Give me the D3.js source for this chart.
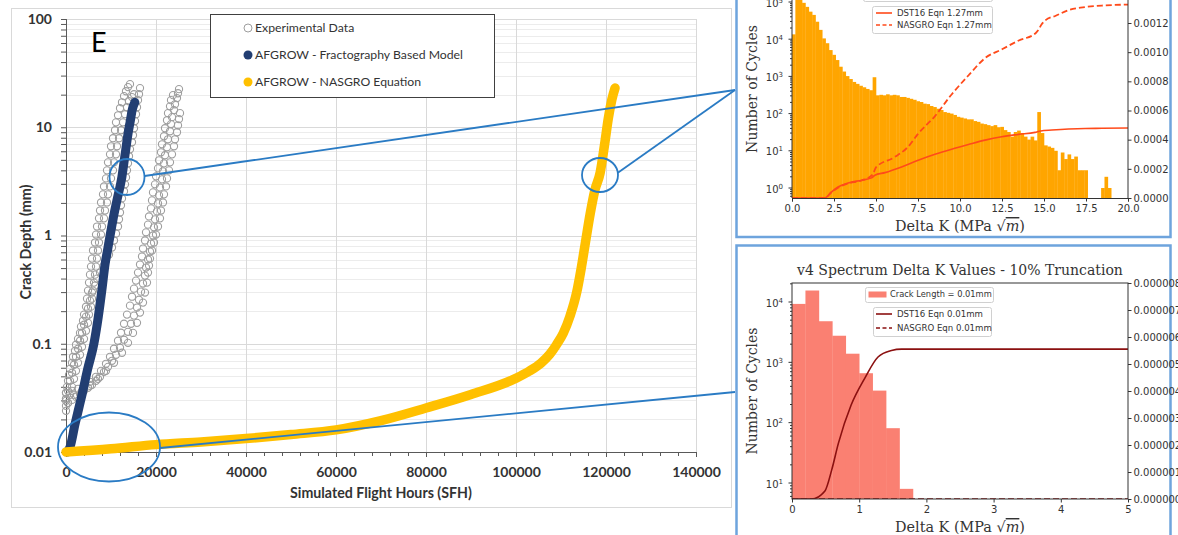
<!DOCTYPE html>
<html><head><meta charset="utf-8">
<script src="https://cdn.jsdelivr.net/npm/d3@7"></script>
<style>body{margin:0;background:#fff}svg{display:block}</style>
</head><body>
<svg id="c" width="1178" height="535"></svg>
<script>
// ---------------- DATA ----------------
// Main chart
const xTicks = [0,20000,40000,60000,80000,100000,120000,140000];
const yTicks = [0.01,0.1,1,10,100];
const yTickLabels = ["0.01","0.1","1","10","100"];
const legendLabels = ["Experimental Data","AFGROW - Fractography Based Model","AFGROW - NASGRO Equation"];
const panelLetter = "E";
const xTitle = "Simulated Flight Hours (SFH)";
const yTitle = "Crack Depth (mm)";

const expData1 = [[0,0.031],[0,0.0352],[220,0.040],[440,0.0454],[670,0.0516],[890,0.0587],[1330,0.0667],[1560,0.0758],[2000,0.0861],[2220,0.098],[2670,0.111],[3110,0.126],[3330,0.144],[3780,0.163],[4000,0.186],[4440,0.220],[4670,0.261],[4890,0.31],[5110,0.367],[5330,0.435],[5560,0.516],[5780,0.612],[6000,0.726],[6440,0.861],[6670,1.02],[6890,1.21],[7330,1.44],[7560,1.70],[7780,2.02],[8220,2.40],[8440,2.84],[8890,3.37],[9110,4.0],[9330,4.74],[9780,5.62],[10000,6.67],[10440,7.91],[10890,9.38],[11110,11.1],[11560,12.9],[12000,15.0],[12440,17.0],[12890,19.4],[13330,21.5],[13780,23.5],[14220,25.0]];
const expData2 = [[0,0.0297],[444,0.0367],[889,0.0454],[1333,0.0539],[1778,0.064],[2222,0.0758],[2667,0.0899],[3111,0.1066],[3556,0.1265],[4000,0.15],[4444,0.178],[4889,0.211],[5333,0.25],[5778,0.297],[6444,0.344],[6889,0.40],[7556,0.454],[8222,0.516],[8889,0.587],[9556,0.667],[10222,0.774],[10667,0.899],[11111,1.04],[11556,1.21],[11778,1.41],[12000,1.63],[12222,1.90],[12444,2.20],[12889,2.56],[13111,2.97],[13333,3.44],[13556,4.0],[13778,4.64],[14000,5.39],[14222,6.25],[14667,7.26],[14889,8.43],[15111,9.79],[15333,11.4],[15556,13.2],[15778,15.3],[16000,17.8],[16222,20.2],[16444,23.0]];
const expData3 = [[0,0.0267],[444,0.0284],[1333,0.0303],[2222,0.0323],[3111,0.0344],[4000,0.0367],[4889,0.0392],[5778,0.0417],[6667,0.0454],[7556,0.0495],[8444,0.055],[9333,0.0612],[10222,0.0696],[11111,0.0791],[12000,0.0918],[12889,0.109],[13778,0.129],[14444,0.153],[15111,0.182],[15778,0.216],[16222,0.255],[16667,0.303],[17111,0.36],[17556,0.426],[17778,0.506],[18222,0.6],[18667,0.711],[18889,0.843],[19333,1.0],[19556,1.19],[19778,1.41],[20222,1.67],[20444,1.98],[20667,2.35],[20889,2.78],[21333,3.30],[21556,3.92],[21778,4.64],[22000,5.51],[22444,6.53],[22667,7.74],[23111,9.18],[23333,10.7],[23556,12.4],[24000,14.4],[24222,16.3],[24667,18.6],[24889,20.6],[25111,22.5]];
const expData4 = [[0,0.031],[1778,0.0337],[3556,0.0367],[5333,0.0408],[7111,0.0474],[8889,0.0562],[10667,0.0667],[12444,0.0826],[13778,0.102],[14889,0.126],[15778,0.156],[16444,0.194],[17111,0.24],[17556,0.297],[18000,0.367],[18222,0.454],[18444,0.527],[18667,0.612],[19111,0.726],[19556,0.861],[20000,1.02],[20444,1.21],[20889,1.44],[21111,1.70],[21556,2.02],[21778,2.40],[22222,2.84],[22444,3.37],[22889,4.0],[23111,4.74],[23556,5.62],[24000,6.67],[24222,7.74],[24667,8.99],[24889,10.4],[25111,11.9],[25333,13.5]];
const expData5 = [[0,0.024],[444,0.0284],[889,0.0337],[1333,0.040],[1778,0.0474],[2222,0.0562],[2667,0.0667],[3111,0.0791],[3556,0.0938],[4000,0.111],[4444,0.132],[4889,0.156],[5111,0.186],[5556,0.220],[5778,0.261],[6000,0.31],[6222,0.367],[6444,0.435],[6667,0.516],[6889,0.612],[7111,0.726],[7333,0.861],[7778,1.02],[8000,1.21],[8444,1.44],[8667,1.70],[9111,2.02],[9333,2.40],[9778,2.84],[10000,3.37],[10444,4.0],[10667,4.74],[11111,5.62],[11333,6.67],[11778,7.91],[12222,9.38],[12667,11.1],[13111,13.2],[13556,15.3],[14000,17.4],[14667,19.0],[15111,20.2]];
const expData6 = [[0,0.0352],[1333,0.0367],[2667,0.0383],[4000,0.0408],[5333,0.0445],[6667,0.0495],[7778,0.0562],[8889,0.0653],[9778,0.0758],[10667,0.0899],[11556,0.1066],[12222,0.1265],[12889,0.153],[13556,0.186],[14222,0.225],[14667,0.272],[15111,0.323],[15556,0.383],[16000,0.454],[16444,0.539],[16889,0.639],[17111,0.758],[17556,0.899],[17778,1.07],[18222,1.26],[18444,1.50],[18889,1.78],[19111,2.11],[19333,2.50],[19778,2.97],[20000,3.52],[20444,4.17],[20667,4.95],[21111,5.87],[21333,6.96],[21778,8.26],[22000,9.79],[22444,11.6],[22667,13.5],[23111,15.6],[23333,17.8],[23778,19.8]];
const fractoModel = [[300,0.01],[900,0.0111],[2000,0.018],[3000,0.027],[3600,0.0344],[4800,0.058],[6200,0.1],[7200,0.18],[8000,0.32],[8700,0.55],[9200,0.72],[9800,1.0],[10500,1.45],[11300,2.1],[12400,3.44],[13100,5.5],[13800,8.8],[14300,11.5],[14700,14.4],[15300,17]];
const nasgroModel = [[0,0.01],[10000,0.0107],[20000,0.0117],[30000,0.0124],[40000,0.0133],[50000,0.0145],[60000,0.016],[70000,0.0195],[80000,0.0255],[90000,0.034],[100000,0.048],[103000,0.056],[105500,0.066],[107500,0.08],[109000,0.098],[110500,0.125],[112000,0.18],[113500,0.3],[114500,0.5],[115500,0.9],[116500,1.6],[117500,2.6],[118700,3.8],[119700,7],[120500,12],[121300,18],[122000,23]];

// Top inset (crack length 1.27 mm)
const topBinWidth = 0.2;
const topHistCounts = [13500,190000,150000,95000,74000,55000,45000,29500,17800,10500,7800,5100,3800,2750,1820,1350,1020,850,710,630,560,510,460,425,950,310,320,310,330,310,320,310,280,280,265,250,235,215,205,185,180,160,150,135,125,110,105,100,92,82,78,74,70,70,63,60,54,52,49,46,49,43,44,36,32,24,32,35,30,24,20,24,19,110,30,14,13,12,10,3,9,6,8,6,7,3,3,3,0,0,0,0,1,2,1,0,0,0,0,0];
const topDst16 = [[0,0],[1.95,0],[2.35,0.0000413],[2.74,0.0000757],[3.34,0.000103],[4.14,0.000122],[4.73,0.000138],[4.93,0.000156],[5.53,0.000174],[6.52,0.000213],[7.51,0.000259],[8.51,0.0003],[9.5,0.000335],[10.5,0.000367],[11.49,0.000397],[12.48,0.00042],[13.48,0.000436],[14.47,0.00045],[14.8,0.00046],[15.47,0.000466],[16.46,0.000473],[17.45,0.000477],[18.45,0.000478],[20,0.00048]];
const topNasgro = [[0,0],[1.95,0],[2.35,0.00004],[2.74,0.00007],[3.34,0.0001],[4.14,0.00012],[4.8,0.00016],[5.0,0.00021],[6.1,0.00028],[6.9,0.00035],[7.5,0.00044],[8.5,0.00056],[9.5,0.00071],[10.5,0.00084],[11.5,0.00096],[12.5,0.00102],[13.5,0.00108],[14.5,0.00113],[14.65,0.00115],[14.85,0.00119],[15.1,0.00122],[15.7,0.00125],[16.5,0.00129],[17.5,0.00131],[18.5,0.00132],[20,0.001326]];
const topXTicks = [0,2.5,5,7.5,10,12.5,15,17.5,20];
const topYExps = [0,1,2,3,4,5];
const topRightTicks = [0,0.0002,0.0004,0.0006,0.0008,0.0010,0.0012];
const topLegend = ["DST16 Eqn 1.27mm","NASGRO Eqn 1.27mm"];

// Bottom inset (crack length 0.01 mm)
const botTitle = "v4 Spectrum Delta K Values - 10% Truncation";
const botBinWidth = 0.2;
const botHistCounts = [9300,15500,4800,2760,1390,660,340,81,8];
const botDst16 = [[0,0],[0.29,0],[0.49,0.3e-6],[0.59,1.07e-6],[0.69,2.06e-6],[0.88,3.48e-6],[1.08,4.46e-6],[1.28,5.26e-6],[1.48,5.5e-6],[1.63,5.55e-6],[5,5.55e-6]];
const botNasgro = [[0,0],[5,0]];
const botXTicks = [0,1,2,3,4,5];
const botYExps = [1,2,3,4];
const botRightTicks = [0,1e-6,2e-6,3e-6,4e-6,5e-6,6e-6,7e-6,8e-6];
const botLegendHist = "Crack Length = 0.01mm";
const botLegend = ["DST16 Eqn 0.01mm","NASGRO Eqn 0.01mm"];
const yLabelInset = "Number of Cycles";

// ---------------- DRAWING ----------------
const svg = d3.select('#c');
const F = "Lato, 'Open Sans', sans-serif";
const SERIF = "'DejaVu Serif', serif";
const SANS = "'DejaVu Sans', sans-serif";

function fit(sel, w){
  const n = sel.node(); const cur = n.getComputedTextLength();
  const fs = parseFloat(sel.attr('font-size'));
  if (cur > 0) sel.attr('font-size', (fs*w/cur).toFixed(2));
  return sel;
}

svg.append('rect').attr('x',11.5).attr('y',8.5).attr('width',720).attr('height',499)
  .attr('fill','#fff').attr('stroke','#d9d9d9');

const x = d3.scaleLinear().domain([0,140000]).range([66,696]);
const y = d3.scaleLog().domain([0.01,100]).range([452,19]);

const minorY = [];
[0.01,0.1,1,10].forEach(d=>{ for(let k=2;k<=9;k++) minorY.push(d*k); });

const grid = svg.append('g');
grid.selectAll('.mg').data(minorY).join('line')
  .attr('x1',x(0)).attr('x2',x(140000)).attr('y1',d=>Math.round(y(d))+0.5).attr('y2',d=>Math.round(y(d))+0.5)
  .attr('stroke','#ececec').attr('stroke-width',1);
grid.selectAll('.Mg').data(yTicks.slice(1)).join('line')
  .attr('x1',x(0)).attr('x2',x(140000)).attr('y1',d=>Math.round(y(d))+0.5).attr('y2',d=>Math.round(y(d))+0.5)
  .attr('stroke','#d9d9d9').attr('stroke-width',1);
grid.selectAll('.vg').data(xTicks.slice(1)).join('line')
  .attr('x1',d=>Math.round(x(d))+0.5).attr('x2',d=>Math.round(x(d))+0.5).attr('y1',y(0.01)).attr('y2',y(100))
  .attr('stroke','#d9d9d9').attr('stroke-width',1);

function styleAxis(g){
  g.selectAll('path.domain').attr('stroke','#595959');
  g.selectAll('.tick line').attr('stroke','#595959');
  g.selectAll('.tick text').attr('font-family',F).attr('font-weight','bold').attr('font-size',14).attr('fill','#333');
}
const gxMinor = svg.append('g').attr('transform','translate(0,452)')
  .call(d3.axisBottom(x).tickValues(d3.range(0,140001,4000)).tickSize(4).tickFormat(''));
styleAxis(gxMinor);
const gx = svg.append('g').attr('transform','translate(0,452)')
  .call(d3.axisBottom(x).tickValues(xTicks).tickSize(5).tickPadding(10).tickFormat(d3.format('d')));
styleAxis(gx);
const gyMinor = svg.append('g').attr('transform','translate(66,0)')
  .call(d3.axisLeft(y).tickValues(minorY).tickSize(5).tickFormat(''));
styleAxis(gyMinor);
const gy = svg.append('g').attr('transform','translate(66,0)')
  .call(d3.axisLeft(y).tickValues(yTicks).tickSize(5).tickPadding(9).tickFormat((d,i)=>yTickLabels[i]));
styleAxis(gy);

fit(svg.append('text').attr('x',381).attr('y',498).attr('text-anchor','middle')
  .attr('font-family',F).attr('font-weight','bold').attr('font-size',14).attr('fill','#333').text(xTitle),182);
fit(svg.append('text').attr('transform','translate(31,242) rotate(-90)').attr('text-anchor','middle')
  .attr('font-family',F).attr('font-weight','bold').attr('font-size',14).attr('fill','#333').text(yTitle),115);

const expAll = [expData1,expData5,expData2,expData3,expData6,expData4];
const ge = svg.append('g');
expAll.forEach(ds=>{
  ge.selectAll(null).data(ds).join('circle')
    .attr('cx',d=>x(d[0])).attr('cy',d=>y(d[1])).attr('r',3.6)
    .attr('fill','none').attr('stroke','#9e9e9e').attr('stroke-width',1.1);
});

const line = d3.line().x(d=>x(d[0])).y(d=>y(d[1])).curve(d3.curveMonotoneX);
svg.append('path').datum(fractoModel).attr('d',line).attr('fill','none')
  .attr('stroke','#223e72').attr('stroke-width',9).attr('stroke-linecap','round').attr('stroke-linejoin','round');
svg.append('path').datum(nasgroModel).attr('d',line).attr('fill','none')
  .attr('stroke','#ffc000').attr('stroke-width',9.5).attr('stroke-linecap','round').attr('stroke-linejoin','round');

svg.append('text').attr('x',91).attr('y',52).attr('font-family',F).attr('font-size',27).attr('fill','#000').text(panelLetter);

svg.append('rect').attr('x',210.5).attr('y',14.5).attr('width',284).attr('height',83)
  .attr('fill','#fff').attr('stroke','#404040').attr('stroke-width',1);
const legY = [28,55,82];
svg.append('circle').attr('cx',248).attr('cy',legY[0]).attr('r',4).attr('fill','#fff').attr('stroke','#9e9e9e');
svg.append('circle').attr('cx',248).attr('cy',legY[1]).attr('r',4.5).attr('fill','#223e72');
svg.append('circle').attr('cx',248).attr('cy',legY[2]).attr('r',4.5).attr('fill','#ffc000');
const lt = legendLabels.map((t,i)=> svg.append('text').attr('x',255).attr('y',legY[i]).attr('dy','0.35em')
  .attr('font-family',F).attr('font-size',13).attr('fill','#333').text(t));
fit(lt[1],208);
lt[0].attr('font-size',lt[1].attr('font-size')); lt[2].attr('font-size',lt[1].attr('font-size'));

// ---------------- TOP INSET ----------------
const PANEL_BLUE = '#6ea4dd';
svg.append('rect').attr('x',736.5).attr('y',-10).attr('width',434).attr('height',247)
  .attr('fill','#fff').attr('stroke',PANEL_BLUE).attr('stroke-width',2.5);

const xT = d3.scaleLinear().domain([0,20]).range([792,1128]);
const yT = d3.scaleLog().domain([1,1e5]).range([188,2]);
const yTR = d3.scaleLinear().domain([0,0.0012]).range([198,23]);
const TB = 198;

const defs = svg.append('defs');
defs.append('clipPath').attr('id','clipTop').append('rect').attr('x',792).attr('y',-20).attr('width',336).attr('height',218);
defs.append('clipPath').attr('id','clipBot').append('rect').attr('x',792).attr('y',283).attr('width',336).attr('height',216);
defs.append('clipPath').attr('id','clipPanel').append('rect').attr('x',0).attr('y',0).attr('width',1170).attr('height',535);

const gTop = svg.append('g').attr('clip-path','url(#clipTop)');
gTop.selectAll('rect').data(topHistCounts.map((c,i)=>({c,i})).filter(d=>d.c>0)).join('rect')
  .attr('x',d=>xT(d.i*topBinWidth)).attr('width',xT(topBinWidth)-xT(0)+0.3)
  .attr('y',d=>yT(d.c)).attr('height',d=>TB-yT(d.c)).attr('fill','#ffa500');
const lineT = d3.line().x(d=>xT(d[0])).y(d=>yTR(d[1])).curve(d3.curveMonotoneX);
gTop.append('path').datum(topDst16).attr('d',lineT).attr('fill','none').attr('stroke','#ff4a1a').attr('stroke-width',1.6);
gTop.append('path').datum(topNasgro).attr('d',lineT).attr('fill','none').attr('stroke','#ff4a1a').attr('stroke-width',1.8).attr('stroke-dasharray','6,3');

function styleInsetAxis(g){
  g.selectAll('path.domain').attr('stroke','#333').attr('stroke-width',1);
  g.selectAll('.tick line').attr('stroke','#333');
  g.selectAll('.tick text').attr('font-family',SANS).attr('font-size',10).attr('fill','#333');
}
svg.append('line').attr('x1',792).attr('x2',792).attr('y1',-5).attr('y2',TB).attr('stroke','#333');
svg.append('line').attr('x1',1128).attr('x2',1128).attr('y1',-5).attr('y2',TB).attr('stroke','#333');
const gxT = svg.append('g').attr('transform',`translate(0,${TB})`)
  .call(d3.axisBottom(xT).tickValues(topXTicks).tickSize(3.5).tickPadding(3).tickFormat(d3.format('.1f')));
styleInsetAxis(gxT);
const topMinor=[]; [1,10,100,1000,10000].forEach(d=>{for(let k=2;k<=9;k++) topMinor.push(d*k);});
topMinor.unshift(0.6,0.7,0.8,0.9);
svg.append('g').selectAll('line').data(topMinor).join('line')
  .attr('x1',790).attr('x2',792).attr('y1',d=>yT(d)).attr('y2',d=>yT(d)).attr('stroke','#333');
svg.append('g').selectAll('line').data(topYExps).join('line')
  .attr('x1',788.5).attr('x2',792).attr('y1',d=>yT(Math.pow(10,d))).attr('y2',d=>yT(Math.pow(10,d))).attr('stroke','#333');
function powLabel(g, xr, yy, e){
  const t = g.append('text').attr('x',xr).attr('y',yy).attr('dy','0.35em').attr('text-anchor','end')
    .attr('font-family',SANS).attr('font-size',10).attr('fill','#333');
  t.append('tspan').text('10');
  t.append('tspan').attr('dy',-4).attr('font-size',7).text(String(e));
}
const gTL = svg.append('g');
topYExps.forEach(e=>powLabel(gTL,783,yT(Math.pow(10,e))+1,e));
const gyTR = svg.append('g').attr('transform','translate(1128,0)')
  .call(d3.axisRight(yTR).tickValues(topRightTicks).tickSize(3.5).tickPadding(2).tickFormat(d3.format('.4f')));
styleInsetAxis(gyTR);
gyTR.select('path.domain').remove();

function deltaK(g, cx, yy, w){
  const t = g.append('text').attr('x',cx).attr('y',yy).attr('text-anchor','middle')
    .attr('font-family',SERIF).attr('font-size',15).attr('fill','#333');
  t.append('tspan').text('Delta K (MPa ');
  t.append('tspan').text('\u221A');
  t.append('tspan').attr('font-style','italic').attr('style','text-decoration:overline').text('m');
  t.append('tspan').text(')');
  fit(t,w);
}
deltaK(svg,960,231,130);
fit(svg.append('text').attr('transform','translate(757,89) rotate(-90)').attr('text-anchor','middle')
  .attr('font-family',SERIF).attr('font-size',15).attr('fill','#333').text(yLabelInset),128);

svg.append('rect').attr('x',863.5).attr('y',-20).attr('width',129).attr('height',21.5).attr('rx',2)
  .attr('fill','#fff').attr('stroke','#d0d0d0');
svg.append('rect').attr('x',872.5).attr('y',6.5).attr('width',120).attr('height',27).attr('rx',2)
  .attr('fill','#fff').attr('fill-opacity',0.85).attr('stroke','#d0d0d0');
[13,25].forEach((yy,i)=>{
  svg.append('line').attr('x1',876).attr('x2',892).attr('y1',yy).attr('y2',yy).attr('stroke','#ff4a1a')
    .attr('stroke-width',1.6).attr('stroke-dasharray',i?'4,2.5':null);
  svg.append('text').attr('x',897).attr('y',yy).attr('dy','0.35em').attr('font-family',SANS).attr('font-size',8.6)
    .attr('fill','#333').text(topLegend[i]);
});

// ---------------- BOTTOM INSET ----------------
svg.append('rect').attr('x',736.5).attr('y',245.5).attr('width',434).attr('height',300)
  .attr('fill','#fff').attr('stroke',PANEL_BLUE).attr('stroke-width',2.5);
const xB = d3.scaleLinear().domain([0,5]).range([792,1128]);
const yB = d3.scaleLog().domain([10,1e4]).range([483,302]);
const yBR = d3.scaleLinear().domain([0,8e-6]).range([499,283]);
const BB = 499;

const gBot = svg.append('g').attr('clip-path','url(#clipBot)');
gBot.selectAll('rect').data(botHistCounts.map((c,i)=>({c,i})).filter(d=>d.c>0)).join('rect')
  .attr('x',d=>xB(d.i*botBinWidth)).attr('width',xB(botBinWidth)-xB(0)+0.3)
  .attr('y',d=>yB(d.c)).attr('height',d=>BB-yB(d.c)).attr('fill','#fa8072');
const lineB = d3.line().x(d=>xB(d[0])).y(d=>yBR(d[1])).curve(d3.curveMonotoneX);
gBot.append('path').datum(botDst16).attr('d',lineB).attr('fill','none').attr('stroke','#8b1010').attr('stroke-width',1.6);
gBot.append('path').datum(botNasgro).attr('d',lineB).attr('fill','none').attr('stroke','#8b1010').attr('stroke-width',1.6).attr('stroke-dasharray','6,3');

svg.append('rect').attr('x',792).attr('y',283).attr('width',336).attr('height',216).attr('fill','none').attr('stroke','#333');
const gxB = svg.append('g').attr('transform',`translate(0,${BB})`)
  .call(d3.axisBottom(xB).tickValues(botXTicks).tickSize(3.5).tickPadding(3).tickFormat(d3.format('d')));
styleInsetAxis(gxB); gxB.select('path.domain').remove();
const botMinor=[]; [10,100,1000,10000].forEach(d=>{for(let k=2;k<=9;k++) botMinor.push(d*k);}); botMinor.unshift(6,7,8,9);
svg.append('g').selectAll('line').data(botMinor.filter(d=>yB(d)>=283)).join('line')
  .attr('x1',790).attr('x2',792).attr('y1',d=>yB(d)).attr('y2',d=>yB(d)).attr('stroke','#333');
svg.append('g').selectAll('line').data(botYExps).join('line')
  .attr('x1',788.5).attr('x2',792).attr('y1',d=>yB(Math.pow(10,d))).attr('y2',d=>yB(Math.pow(10,d))).attr('stroke','#333');
const gBL = svg.append('g');
botYExps.forEach(e=>powLabel(gBL,783,yB(Math.pow(10,e))+1,e));
const gyBR = svg.append('g').attr('transform','translate(1128,0)').attr('clip-path','url(#clipPanel)')
  .call(d3.axisRight(yBR).tickValues(botRightTicks).tickSize(3.5).tickPadding(2).tickFormat(d3.format('.6f')));
styleInsetAxis(gyBR); gyBR.select('path.domain').remove();

fit(svg.append('text').attr('x',960).attr('y',275).attr('text-anchor','middle')
  .attr('font-family',SERIF).attr('font-size',15).attr('fill','#333').text(botTitle),326);
deltaK(svg,960,532,130);
fit(svg.append('text').attr('transform','translate(757,391) rotate(-90)').attr('text-anchor','middle')
  .attr('font-family',SERIF).attr('font-size',15).attr('fill','#333').text(yLabelInset),127);

svg.append('rect').attr('x',865.5).attr('y',287.5).attr('width',128).attr('height',15).attr('rx',2)
  .attr('fill','#fff').attr('stroke','#d0d0d0');
svg.append('rect').attr('x',868.5).attr('y',291.5).attr('width',18).attr('height',6).attr('fill','#fa8072');
svg.append('text').attr('x',890).attr('y',294.5).attr('dy','0.35em').attr('font-family',SANS).attr('font-size',8.3)
  .attr('fill','#333').text(botLegendHist);
svg.append('rect').attr('x',873.5).attr('y',307.5).attr('width',118).attr('height',29).attr('rx',2)
  .attr('fill','#fff').attr('stroke','#d0d0d0');
[314,328].forEach((yy,i)=>{
  svg.append('line').attr('x1',876).attr('x2',892).attr('y1',yy).attr('y2',yy).attr('stroke','#8b1010')
    .attr('stroke-width',1.6).attr('stroke-dasharray',i?'4,2.5':null);
  svg.append('text').attr('x',897).attr('y',yy).attr('dy','0.35em').attr('font-family',SANS).attr('font-size',8.6)
    .attr('fill','#333').text(botLegend[i]);
});

// ---------------- ANNOTATIONS ----------------
const BLUE = '#2a7bc4';
const ann = svg.append('g').attr('fill','none').attr('stroke',BLUE).attr('stroke-width',1.8);
ann.append('ellipse').attr('cx',127).attr('cy',177).attr('rx',17.5).attr('ry',18);
ann.append('line').attr('x1',144.5).attr('y1',176).attr('x2',735).attr('y2',90);
ann.append('ellipse').attr('cx',600).attr('cy',175).attr('rx',18).attr('ry',17);
ann.append('line').attr('x1',617.5).attr('y1',173).attr('x2',735).attr('y2',90);
ann.append('ellipse').attr('cx',109).attr('cy',447).attr('rx',51).attr('ry',34.5);
ann.append('line').attr('x1',160).attr('y1',448).attr('x2',735).attr('y2',392);
</script>
</body></html>
